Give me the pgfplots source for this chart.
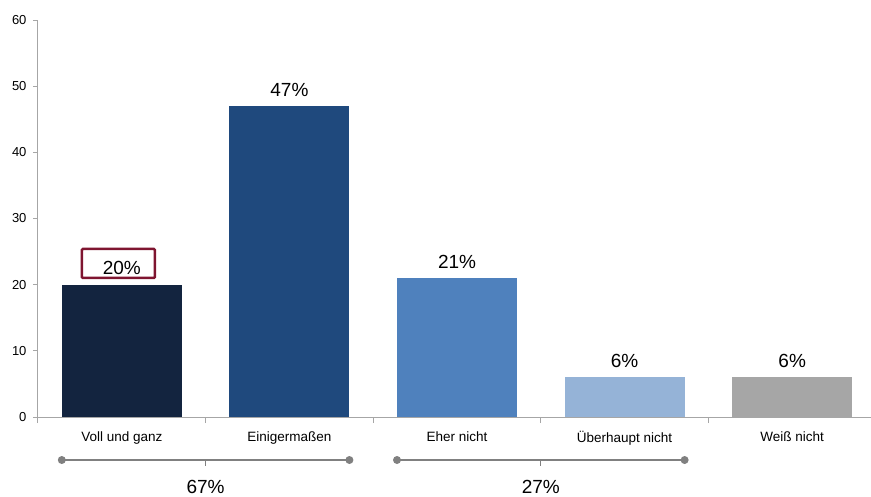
\documentclass[border=0pt]{standalone}
\usepackage{fontspec}
\setmainfont{Liberation Sans}
\usepackage{pgfplots}
\pgfplotsset{compat=1.18}
\definecolor{c0}{HTML}{13243F}
\definecolor{c1}{HTML}{1F497D}
\definecolor{c2}{HTML}{4F81BD}
\definecolor{c3}{HTML}{95B3D7}
\definecolor{c4}{HTML}{A6A6A6}
\definecolor{axisgray}{HTML}{A6A6A6}
\definecolor{brackgray}{HTML}{808080}
\definecolor{boxred}{HTML}{7F1530}
\begin{document}
\begin{tikzpicture}
\useasboundingbox (-38pt,-79pt) rectangle (833pt,417pt);
\begin{axis}[
  at={(0pt,0pt)}, anchor=south west,
  scale only axis, width=833pt, height=397pt,
  xmin=-0.5, xmax=4.47, ymin=0, ymax=60,
  ytick={0,10,...,60},
  xtick={0,...,4},
  xticklabels={Voll und ganz, Einigermaßen, Eher nicht, Überhaupt nicht, Weiß nicht},
  minor xtick={-0.5,0.5,1.5,2.5,3.5},
  axis x line*=bottom, axis y line*=left,
  axis line style={draw=axisgray, line width=1pt, -},
  major x tick style={draw=none},
  every tick/.style={draw=axisgray, line width=1pt},
  minor x tick style={draw=axisgray, line width=1pt},
  major y tick style={draw=axisgray, line width=1pt},
  tick align=outside,
  major tick length=5pt, minor tick length=6pt,
  ybar, bar width=0.716, bar shift=0pt,
  clip=false,
  /pgf/number format/assume math mode=true,
  yticklabel style={font=\fontsize{13}{15}\selectfont, xshift=-3pt},
  xticklabel style={font=\fontsize{13.5}{16}\selectfont, yshift=-6pt},
  nodes near coords={\pgfmathprintnumber{\pgfplotspointmeta}\%},
  every node near coord/.append style={font=\fontsize{19}{22}\selectfont, inner sep=0pt, yshift=9.5pt, text=black},
]
\addplot[fill=c0, draw=none] coordinates {(0,20)};
\addplot[fill=c1, draw=none] coordinates {(1,47)};
\addplot[fill=c2, draw=none] coordinates {(2,21)};
\addplot[fill=c3, draw=none] coordinates {(3,6)};
\addplot[fill=c4, draw=none] coordinates {(4,6)};
\node[draw=boxred, line width=2.5pt, minimum width=73pt, minimum height=29pt, rounded corners=1pt] at (axis cs:-0.02,23.2) {};
% summary brackets
\draw[brackgray, line width=1.5pt] (axis cs:-0.358,-6.5) -- (axis cs:1.358,-6.5);
\draw[brackgray, line width=1pt] (axis cs:0.5,-6.5) -- (axis cs:0.5,-7.4);
\fill[brackgray] (axis cs:-0.358,-6.5) circle (4pt);
\fill[brackgray] (axis cs:1.358,-6.5) circle (4pt);
\node[font=\fontsize{19}{22}\selectfont] at (axis cs:0.5,-10.6) {67\%};
\draw[brackgray, line width=1.5pt] (axis cs:1.642,-6.5) -- (axis cs:3.358,-6.5);
\draw[brackgray, line width=1pt] (axis cs:2.5,-6.5) -- (axis cs:2.5,-7.4);
\fill[brackgray] (axis cs:1.642,-6.5) circle (4pt);
\fill[brackgray] (axis cs:3.358,-6.5) circle (4pt);
\node[font=\fontsize{19}{22}\selectfont] at (axis cs:2.5,-10.6) {27\%};
\end{axis}
\end{tikzpicture}
\end{document}
